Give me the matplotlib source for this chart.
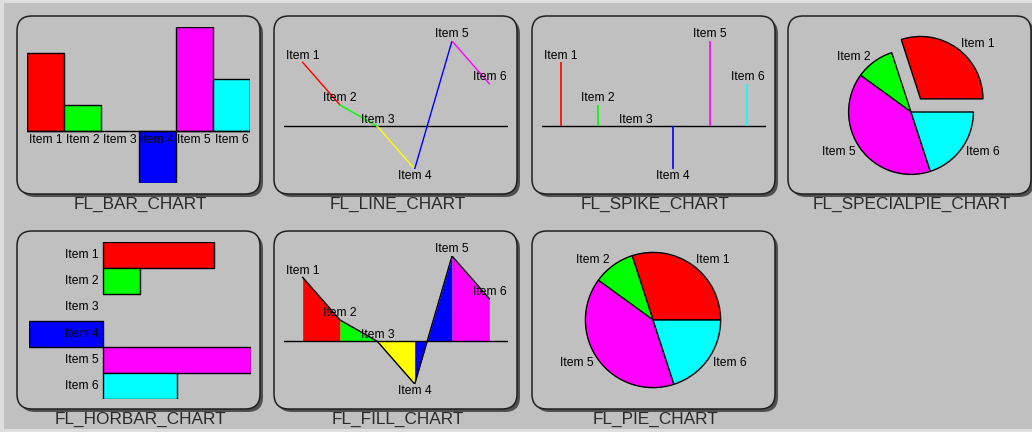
import matplotlib
matplotlib.use("Agg")
import matplotlib.pyplot as plt
from matplotlib.patches import FancyBboxPatch, Rectangle

plt.rcParams['font.family'] = ['Liberation Sans', 'DejaVu Sans']

# chart data
items = ["Item 1", "Item 2", "Item 3", "Item 4", "Item 5", "Item 6"]
values = [15, 5, 0, -10, 20, 10]
colors = ["#ff0000", "#00ff00", "#ffff00", "#0000ff", "#ff00ff", "#00ffff"]
titles = ["FL_BAR_CHART", "FL_LINE_CHART", "FL_SPIKE_CHART", "FL_SPECIALPIE_CHART",
          "FL_HORBAR_CHART", "FL_FILL_CHART", "FL_PIE_CHART"]

W, H = 1032, 432
BG = "#c0c0c0"
LBL = 8.7

fig = plt.figure(figsize=(W / 100, H / 100), dpi=100, facecolor=BG)
bg = fig.add_axes([0, 0, 1, 1])
bg.set_xlim(0, W)
bg.set_ylim(H, 0)
bg.set_axis_off()

# light outer frame
bg.add_patch(Rectangle((0, 0), 4, H, color="#dedede", lw=0))
bg.add_patch(Rectangle((0, 0), W, 3, color="#dedede", lw=0))
bg.add_patch(Rectangle((0, H - 3), W, 3, color="#dedede", lw=0))

# panel boxes
col_x = [17, 274, 532, 788]
row_y = [16, 231]
pw, ph = 243, 178
for k, title in enumerate(titles):
    x0 = col_x[k % 4]
    y0 = row_y[k // 4]
    bg.add_patch(FancyBboxPatch((x0 + 3, y0 + 3), pw, ph,
                                boxstyle="round,pad=0,rounding_size=15",
                                fc="#505050", ec="none"))
    bg.add_patch(FancyBboxPatch((x0, y0), pw, ph,
                                boxstyle="round,pad=0,rounding_size=15",
                                fc=BG, ec="#202020", lw=1.1))
    bg.text(x0 + pw / 2 + 2, y0 + ph + 10, title, ha="center", va="center",
            fontsize=12.4, color="#2a2a2a")


def px_ax(x0, y0, x1, y1):
    ax = fig.add_axes([x0 / W, 1 - y1 / H, (x1 - x0) / W, (y1 - y0) / H])
    ax.set_axis_off()
    return ax


def point_labels(ax):
    for i, (name, v) in enumerate(zip(items, values)):
        if v >= 0:
            ax.annotate(name, (i, v), xytext=(0, 0.5), textcoords="offset points",
                        ha="center", va="bottom", fontsize=LBL)
        else:
            ax.annotate(name, (i, v), xytext=(0, -1), textcoords="offset points",
                        ha="center", va="top", fontsize=LBL)


idx = list(range(len(values)))

# === bar chart ===
ax = px_ax(27, 27, 250, 183)
ax.set_xlim(-0.5, 5.5)
ax.set_ylim(-10, 20)
nz = [i for i in idx if values[i] != 0]
ax.bar(nz, [values[i] for i in nz], width=1.0, color=[colors[i] for i in nz],
       edgecolor="black", linewidth=1)
ax.axhline(0, color="black", lw=1)
for i, name in enumerate(items):
    ax.annotate(name, (i, 0), xytext=(0, -2.5), textcoords="offset points",
                ha="center", va="top", fontsize=LBL, zorder=5)

# === line chart ===
ax = px_ax(284, 41, 508, 169)
ax.set_xlim(-0.5, 5.5)
ax.set_ylim(-10, 20)
ax.axhline(0, color="black", lw=1)
for i in range(len(values) - 1):
    ax.plot([i, i + 1], [values[i], values[i + 1]], color=colors[i], lw=1)
point_labels(ax)

# === spike chart ===
ax = px_ax(542, 41, 766, 169)
ax.set_xlim(-0.5, 5.5)
ax.set_ylim(-10, 20)
ax.axhline(0, color="black", lw=1)
ax.vlines(idx, 0, values, colors=colors, lw=1.2)
point_labels(ax)

# === pies ===
pos = [i for i in idx if values[i] > 0]


def draw_pie(cx, cy, r, explode_first):
    half = r * 1.3
    ax = px_ax(cx - half, cy - half, cx + half, cy + half)
    ax.set_xlim(-1.3, 1.3)
    ax.set_ylim(-1.3, 1.3)
    explode = [0.26 if (explode_first and n == 0) else 0 for n in range(len(pos))]
    ax.pie([values[i] for i in pos], labels=[items[i] for i in pos],
           colors=[colors[i] for i in pos], startangle=0, counterclock=True,
           explode=explode, labeldistance=1.09, radius=1,
           wedgeprops=dict(edgecolor="black", linewidth=1),
           textprops=dict(fontsize=LBL))


draw_pie(911, 112, 60, True)
draw_pie(653, 320, 65, False)

# === horizontal bar chart ===
ax = px_ax(29, 242, 251, 399)
ax.set_xlim(-10, 20)
ax.set_ylim(5.5, -0.5)
ax.barh(nz, [values[i] for i in nz], height=1.0, color=[colors[i] for i in nz],
        edgecolor="black", linewidth=1)
for i, name in enumerate(items):
    ax.annotate(name, (0, i), xytext=(-3, 0), textcoords="offset points",
                ha="right", va="center", fontsize=LBL, zorder=5)

# === fill chart ===
ax = px_ax(284, 256, 508, 384)
ax.set_xlim(-0.5, 5.5)
ax.set_ylim(-10, 20)
for i in range(len(values) - 1):
    ax.fill_between([i, i + 1], [values[i], values[i + 1]], 0,
                    color=colors[i], lw=0)
ax.plot(idx, values, color="black", lw=1)
ax.axhline(0, color="black", lw=1)
point_labels(ax)

fig.savefig("out.png", dpi=100, facecolor=BG)
